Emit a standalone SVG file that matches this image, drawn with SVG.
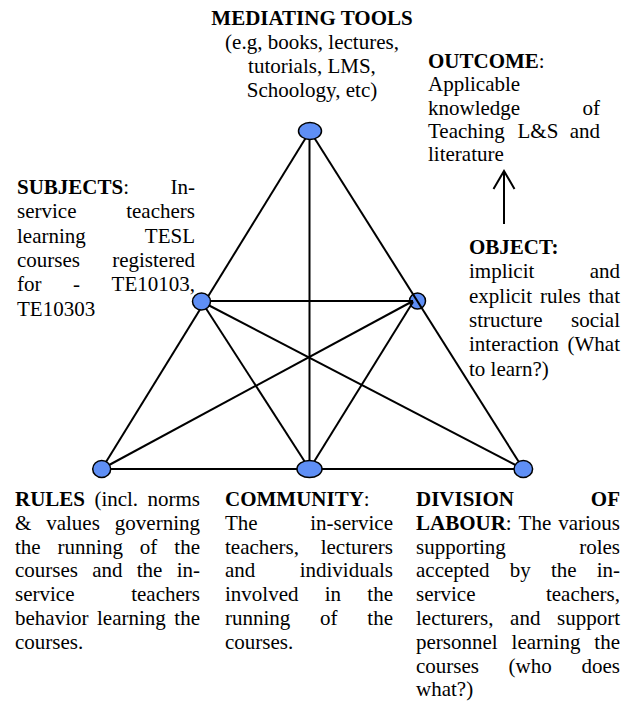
<svg xmlns="http://www.w3.org/2000/svg" width="628" height="707" viewBox="0 0 628 707">
  <style>
    text { font-family: "Liberation Serif", "Times New Roman", serif; font-size: 21px; fill: #000; }
    .b { font-weight: bold; }
    .e { text-anchor: end; }
    .m { text-anchor: middle; }
    .edge { stroke: #000; stroke-width: 2; fill: none; }
    .node { fill: #5f8ff5; stroke: #000; stroke-width: 1.5; }
  </style>
  <defs>
    <marker id="open-head" viewBox="-1 -1 21 23" markerWidth="21" markerHeight="23" markerUnits="userSpaceOnUse" refX="18" refY="10.5" orient="auto" overflow="visible">
      <path d="M0,0 L18,10.5 L0,21" fill="none" stroke="#000" stroke-width="2"/>
    </marker>
  </defs>

  <rect width="628" height="707" fill="#fff"/>

  <!-- object node sits under the connectors that meet inside it -->
  <g id="object">
    <ellipse class="node" cx="417.5" cy="301" rx="8" ry="8"/>
    <text class="b" x="469" y="254">OBJECT:</text>
    <text x="469" y="278.3">implicit</text>
    <text class="e" x="620" y="278.3">and</text>
    <text x="469" y="302.6">explicit<tspan x="539.9">rules</tspan></text>
    <text class="e" x="620" y="302.6">that</text>
    <text x="469" y="326.9">structure</text>
    <text class="e" x="620" y="326.9">social</text>
    <text x="469" y="351.2">interaction</text>
    <text class="e" x="620" y="351.2">(What</text>
    <text x="469" y="375.5">to learn?)</text>
  </g>

  <g id="connectors">
    <line class="edge" x1="310" y1="131" x2="101.7" y2="469"/>
    <line class="edge" x1="310" y1="131" x2="523.3" y2="469"/>
    <line class="edge" x1="309.5" y1="131" x2="309.5" y2="469"/>
    <line class="edge" x1="101.7" y1="469" x2="523.3" y2="469"/>
    <line class="edge" x1="201.5" y1="301" x2="413" y2="301"/>
    <line class="edge" x1="201.5" y1="301.5" x2="309.5" y2="469"/>
    <line class="edge" x1="413" y1="302" x2="309.5" y2="469"/>
    <line class="edge" x1="201.5" y1="301.5" x2="523.3" y2="469"/>
    <line class="edge" x1="413" y1="301" x2="101.7" y2="469"/>
    <!-- object leads to outcome -->
    <line class="edge" x1="504" y1="224" x2="504" y2="171" marker-end="url(#open-head)"/>
  </g>

  <g id="mediating-tools">
    <ellipse class="node" cx="310" cy="131" rx="11.5" ry="8.5"/>
    <text class="b m" x="312" y="25">MEDIATING TOOLS</text>
    <text class="m" x="312" y="49.3">(e.g, books, lectures,</text>
    <text class="m" x="312" y="73.3">tutorials, LMS,</text>
    <text class="m" x="312" y="96.8">Schoology, etc)</text>
  </g>

  <g id="outcome">
    <text x="428" y="68"><tspan class="b">OUTCOME</tspan>:</text>
    <text x="428" y="91.3">Applicable</text>
    <text x="428" y="114.6">knowledge</text>
    <text class="e" x="600" y="114.6">of</text>
    <text x="428" y="137.9">Teaching<tspan x="517.5">L&amp;S</tspan></text>
    <text class="e" x="600" y="137.9">and</text>
    <text x="428" y="161.2">literature</text>
  </g>

  <g id="subjects">
    <ellipse class="node" cx="201.5" cy="301.5" rx="9" ry="8.5"/>
    <text x="17" y="194"><tspan class="b">SUBJECTS</tspan>:</text>
    <text class="e" x="195" y="194">In-</text>
    <text x="17" y="218.3">service</text>
    <text class="e" x="195" y="218.3">teachers</text>
    <text x="17" y="242.6">learning</text>
    <text class="e" x="195" y="242.6">TESL</text>
    <text x="17" y="266.9">courses</text>
    <text class="e" x="195" y="266.9">registered</text>
    <text x="17" y="291.2">for<tspan x="73">-</tspan></text>
    <text class="e" x="195" y="291.2">TE10103,</text>
    <text x="17" y="315.5">TE10303</text>
  </g>

  <g id="rules">
    <ellipse class="node" cx="101.7" cy="469" rx="9" ry="8.5"/>
    <text x="15" y="506"><tspan class="b">RULES</tspan><tspan x="94.4">(incl.</tspan></text>
    <text class="e" x="200" y="506">norms</text>
    <text x="15" y="529.8">&amp;<tspan x="46.2">values</tspan></text>
    <text class="e" x="200" y="529.8">governing</text>
    <text x="15" y="553.6">the<tspan x="57.6">running</tspan><tspan x="139.8">of</tspan></text>
    <text class="e" x="200" y="553.6">the</text>
    <text x="15" y="577.4">courses<tspan x="92.2">and</tspan><tspan x="136.7">the</tspan></text>
    <text class="e" x="200" y="577.4">in-</text>
    <text x="15" y="601.2">service</text>
    <text class="e" x="200" y="601.2">teachers</text>
    <text x="15" y="625">behavior<tspan x="97">learning</tspan></text>
    <text class="e" x="200" y="625">the</text>
    <text x="15" y="648.8">courses.</text>
  </g>

  <g id="community">
    <ellipse class="node" cx="309.5" cy="469" rx="12.5" ry="8.5"/>
    <text x="225" y="506"><tspan class="b">COMMUNITY</tspan>:</text>
    <text x="225" y="529.8">The</text>
    <text class="e" x="393" y="529.8">in-service</text>
    <text x="225" y="553.6">teachers,</text>
    <text class="e" x="393" y="553.6">lecturers</text>
    <text x="225" y="577.4">and</text>
    <text class="e" x="393" y="577.4">individuals</text>
    <text x="225" y="601.2">involved<tspan x="324.7">in</tspan></text>
    <text class="e" x="393" y="601.2">the</text>
    <text x="225" y="625">running<tspan x="320">of</tspan></text>
    <text class="e" x="393" y="625">the</text>
    <text x="225" y="648.8">courses.</text>
  </g>

  <g id="division-of-labour">
    <ellipse class="node" cx="523.3" cy="469" rx="9.3" ry="8.5"/>
    <text class="b" x="416" y="506">DIVISION</text>
    <text class="b e" x="620" y="506">OF</text>
    <text x="416" y="529.8"><tspan class="b">LABOUR</tspan>:<tspan x="518.6">The</tspan></text>
    <text class="e" x="620" y="529.8">various</text>
    <text x="416" y="553.6">supporting</text>
    <text class="e" x="620" y="553.6">roles</text>
    <text x="416" y="577.4">accepted<tspan x="509.7">by</tspan><tspan x="550.9">the</tspan></text>
    <text class="e" x="620" y="577.4">in-</text>
    <text x="416" y="601.2">service</text>
    <text class="e" x="620" y="601.2">teachers,</text>
    <text x="416" y="625">lecturers,<tspan x="510.1">and</tspan></text>
    <text class="e" x="620" y="625">support</text>
    <text x="416" y="648.8">personnel<tspan x="511.6">learning</tspan></text>
    <text class="e" x="620" y="648.8">the</text>
    <text x="416" y="672.6">courses<tspan x="508.6">(who</tspan></text>
    <text class="e" x="620" y="672.6">does</text>
    <text x="416" y="696.4">what?)</text>
  </g>
</svg>
